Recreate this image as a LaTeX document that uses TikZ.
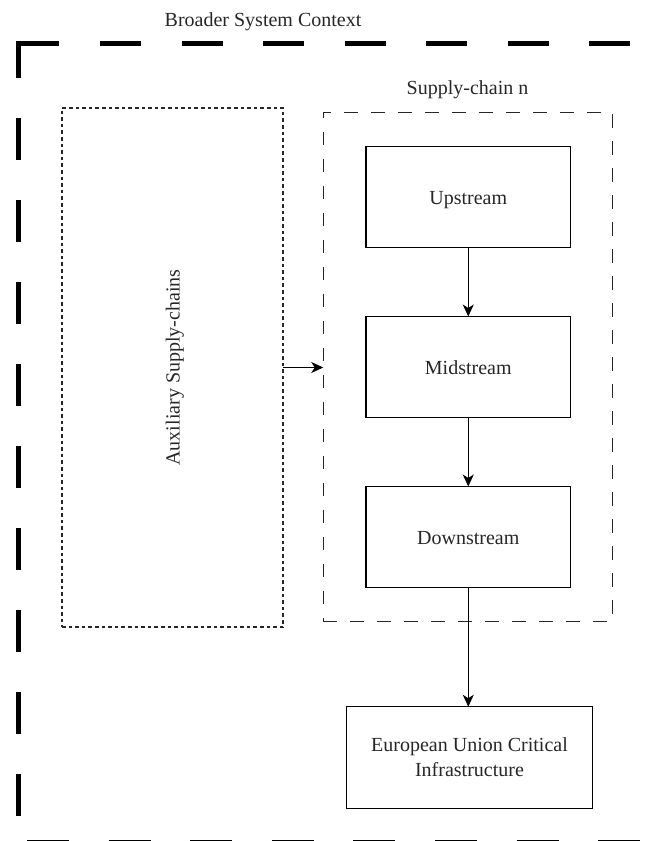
\documentclass[tikz,border=0pt]{standalone}
\usepackage{fontspec}
\setmainfont{Liberation Serif}
\usetikzlibrary{arrows.meta}
\begin{document}
\begin{tikzpicture}[x=1pt,y=-1pt,
  lbl/.style={font=\fontsize{20}{25}\selectfont, text=black!85, align=center, inner sep=0pt},
  stage/.style={draw=black, line width=1.3pt, minimum width=204.5pt, minimum height=101pt,
    inner sep=0pt, outer sep=0pt, lbl, text height=14pt, text depth=0pt},
  frameline/.style={line width=5pt, black},
  flow/.style={draw=black, line width=1.3pt, -{Stealth[length=12pt,width=11pt,inset=3.5pt]}}
]
\useasboundingbox (0,0) rectangle (656,841);

% outer context frame (runs off the right and bottom edges)
\begin{scope}
  \clip (0,0) rectangle (656,841);
  \draw[frameline, line join=miter] (18,78) -- (18,43) -- (59,43);
  \draw[frameline, dash pattern=on 41pt off 40.5pt] (100,43) -- (700,43);
  \draw[frameline, dash pattern=on 42pt off 40pt] (18,118) -- (18,860);
  \draw[frameline, dash pattern=on 42pt off 39.6pt] (27,842) -- (700,842);
\end{scope}
\node[lbl, anchor=base] (ctx) at (263,26.5) {Broader System Context};

% auxiliary supply-chains
\node[draw=black!85, line width=1.1pt, dash pattern=on 3.6pt off 3pt,
      minimum width=221pt, minimum height=519pt, inner sep=0pt, outer sep=0pt]
      (aux) at (172.5,367.5) {};
\node[lbl, rotate=90, text height=14pt, text depth=0pt] (auxlbl) at (aux.center) {Auxiliary Supply-chains};

% supply-chain n
\node[draw=black!85, line width=1.2pt, dash pattern=on 13.5pt off 13.5pt,
      minimum width=289pt, minimum height=509.5pt, inner sep=0pt, outer sep=0pt]
      (sc) at (467.75,367) {};
\node[lbl, anchor=base] (sclbl) at (467.5,94) {Supply-chain n};

% stages
\node[stage] (up)  at (468.25,197) {Upstream};
\node[stage] (mid) at (468.25,367) {Midstream};
\node[stage] (ds)  at (468.25,537) {Downstream};
\node[draw=black, line width=1.3pt, minimum width=245.5pt, minimum height=101.5pt,
      inner sep=0pt, outer sep=0pt, lbl] (eu) at (469.5,757.5)
      {European Union Critical\\Infrastructure};

% connectors
\draw[flow] (up) -- (mid);
\draw[flow] (mid) -- (ds);
\draw[flow] (ds) -- (ds |- eu.north);
\draw[flow] (aux.east) -- (aux.east -| sc.west);
\end{tikzpicture}
\end{document}
